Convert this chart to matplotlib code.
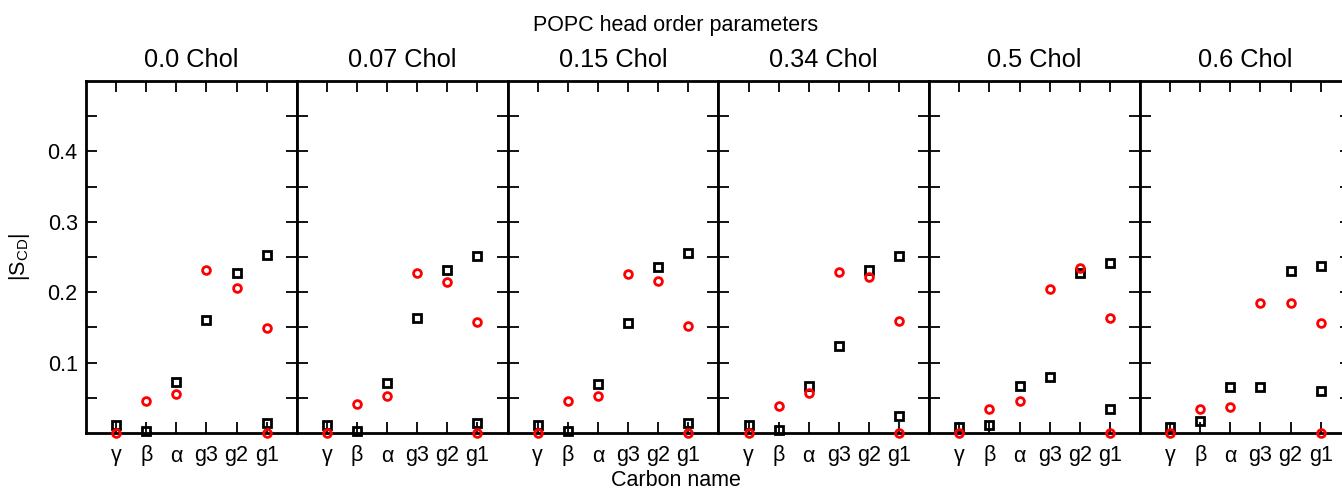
import matplotlib
matplotlib.use("Agg")
import matplotlib.pyplot as plt

plt.rcParams['font.family'] = ['Liberation Sans', 'DejaVu Sans']
plt.rcParams['mathtext.fontset'] = 'custom'
plt.rcParams['mathtext.rm'] = 'Liberation Sans'

# ---- data ----
carbons = ['γ', 'β', 'α', 'g3', 'g2', 'g1']
point_carbons = ['γ', 'β', 'α', 'g3', 'g2', 'g1', 'g1']
chol_fracs = ['0.0', '0.07', '0.15', '0.34', '0.5', '0.6']

black_0_0 = [0.012, 0.003, 0.073, 0.161, 0.227, 0.253, 0.014]
black_0_07 = [0.012, 0.003, 0.071, 0.164, 0.231, 0.252, 0.014]
black_0_15 = [0.012, 0.003, 0.070, 0.156, 0.236, 0.256, 0.014]
black_0_34 = [0.011, 0.004, 0.067, 0.123, 0.231, 0.251, 0.024]
black_0_5 = [0.009, 0.012, 0.067, 0.080, 0.227, 0.241, 0.034]
black_0_6 = [0.008, 0.017, 0.066, 0.065, 0.230, 0.237, 0.059]

red_0_0 = [0.0, 0.045, 0.055, 0.231, 0.206, 0.149, 0.0]
red_0_07 = [0.0, 0.041, 0.052, 0.227, 0.215, 0.157, 0.0]
red_0_15 = [0.0, 0.046, 0.052, 0.226, 0.216, 0.152, 0.0]
red_0_34 = [0.0, 0.038, 0.057, 0.229, 0.221, 0.159, 0.0]
red_0_5 = [0.0, 0.034, 0.045, 0.204, 0.234, 0.164, 0.0]
red_0_6 = [0.0, 0.034, 0.037, 0.185, 0.185, 0.156, 0.0]

black_series = [black_0_0, black_0_07, black_0_15, black_0_34, black_0_5, black_0_6]
red_series = [red_0_0, red_0_07, red_0_15, red_0_34, red_0_5, red_0_6]

ytick_vals = [0.05, 0.1, 0.15, 0.2, 0.25, 0.3, 0.35, 0.4, 0.45]
ytick_labels = ['', '0.1', '', '0.2', '', '0.3', '', '0.4', '']

# ---- figure ----
W, H = 1342, 491
fig = plt.figure(figsize=(W / 100, H / 100), dpi=100)

left_px, top_px, bottom_px = 86, 81, 433
panel_w = 210.8
xpos = [carbons.index(c) + 1 for c in point_carbons]
tick_pos = list(range(1, len(carbons) + 1))

for i, (frac, bl, rd) in enumerate(zip(chol_fracs, black_series, red_series)):
    x0 = (left_px + i * panel_w) / W
    ax = fig.add_axes([x0, (H - bottom_px) / H, panel_w / W, (bottom_px - top_px) / H])
    ax.plot(xpos, bl, linestyle='none', marker='s', ms=5.2, mew=2.0,
            mfc='none', mec='black', clip_on=False, zorder=3)
    ax.plot(xpos, rd, linestyle='none', marker='o', ms=5.6, mew=2.0,
            mfc='none', mec='red', clip_on=False, zorder=4)
    ax.set_xlim(0, 7)
    ax.set_ylim(0, 0.5)
    ax.set_xticks(tick_pos)
    ax.set_xticklabels(carbons)
    ax.set_yticks(ytick_vals)
    if i == 0:
        ax.set_yticklabels(ytick_labels)
    else:
        ax.set_yticklabels([])
    ax.tick_params(axis='both', direction='in', length=8, width=1.3,
                   top=True, right=True, labelsize=15.5, color='black')
    ax.tick_params(axis='x', pad=9)
    ax.tick_params(axis='y', pad=6)
    for sp in ax.spines.values():
        sp.set_linewidth(2.0)
    ax.text(0.5, (top_px - 67) / (bottom_px - top_px) + 1.0, f'{frac} Chol',
            transform=ax.transAxes, ha='center', va='baseline', fontsize=18.3)

fig.text(676 / W, 1 - 31 / H, 'POPC head order parameters', ha='center',
         va='baseline', fontsize=15.5)
fig.text(676 / W, 1 - 481 / H, 'Carbon name', ha='center', va='center',
         fontsize=15.5)
fig.text(20 / W, 1 - 257 / H, r'$|\mathrm{S}_{\mathrm{CD}}|$', rotation=90,
         ha='center', va='center', fontsize=15.5)

fig.savefig('out.png', dpi=100)
